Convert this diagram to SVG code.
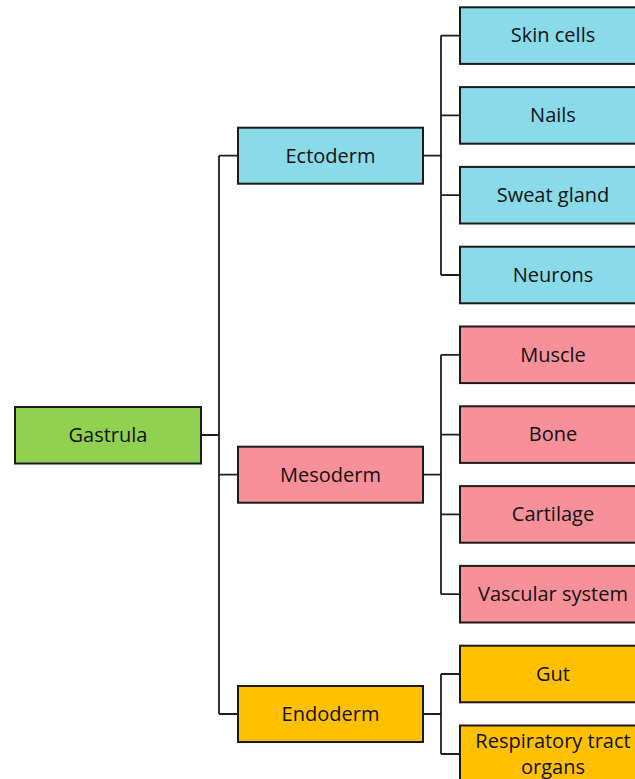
<svg xmlns="http://www.w3.org/2000/svg" width="635" height="779" viewBox="0 0 635 779">
<style>
.box{stroke:#1b1b1b;stroke-width:2}
.cyan{fill:#89DBEA}.pink{fill:#F8909A}.green{fill:#92D050}.orange{fill:#FFC000}
.lbl{font-family:"Open Sans","Liberation Sans",sans-serif;font-size:20px;fill:#111;text-anchor:middle}
.conn{fill:none;stroke:#1e1e1e;stroke-width:1.8}
</style>
<rect width="635" height="779" fill="#fff"/>
<g id="connectors">
<path class="conn" d="M201,435 H219 M219,155.7 V714 M219,155.7 H238 M219,474.7 H238 M219,714 H238"/>
<path class="conn" d="M423,155.7 H441 M441,35.6 V275 M441,35.6 H460 M441,115.4 H460 M441,195.2 H460 M441,275 H460"/>
<path class="conn" d="M423,474.7 H441 M441,354.8 V594.2 M441,354.8 H460 M441,434.6 H460 M441,514.4 H460 M441,594.2 H460"/>
<path class="conn" d="M423,714 H441 M441,674 V754 M441,674 H460 M441,754 H460"/>
</g>
<g id="gastrula"><rect class="box green" x="15" y="407" width="186" height="56.5"/><text class="lbl" x="108" y="441.5">Gastrula</text></g>
<g id="ectoderm"><rect class="box cyan" x="238" y="127.7" width="185" height="56"/><text class="lbl" x="330.5" y="162.5">Ectoderm</text></g>
<g id="mesoderm"><rect class="box pink" x="238" y="446.7" width="185" height="56"/><text class="lbl" x="330.5" y="481.5">Mesoderm</text></g>
<g id="endoderm"><rect class="box orange" x="238" y="686" width="185" height="56"/><text class="lbl" x="330.5" y="720.8">Endoderm</text></g>
<g id="skin-cells"><rect class="box cyan" x="460" y="7.3" width="186" height="56.6"/><text class="lbl" x="553" y="42.4">Skin cells</text></g>
<g id="nails"><rect class="box cyan" x="460" y="87.1" width="186" height="56.6"/><text class="lbl" x="553" y="122.2">Nails</text></g>
<g id="sweat-gland"><rect class="box cyan" x="460" y="166.9" width="186" height="56.6"/><text class="lbl" x="553" y="202">Sweat gland</text></g>
<g id="neurons"><rect class="box cyan" x="460" y="246.7" width="186" height="56.6"/><text class="lbl" x="553" y="281.8">Neurons</text></g>
<g id="muscle"><rect class="box pink" x="460" y="326.5" width="186" height="56.6"/><text class="lbl" x="553" y="361.6">Muscle</text></g>
<g id="bone"><rect class="box pink" x="460" y="406.3" width="186" height="56.6"/><text class="lbl" x="553" y="441.4">Bone</text></g>
<g id="cartilage"><rect class="box pink" x="460" y="486.1" width="186" height="56.6"/><text class="lbl" x="553" y="521.2">Cartilage</text></g>
<g id="vascular-system"><rect class="box pink" x="460" y="565.9" width="186" height="56.6"/><text class="lbl" x="553" y="601">Vascular system</text></g>
<g id="gut"><rect class="box orange" x="460" y="645.7" width="186" height="56.6"/><text class="lbl" x="553" y="680.8">Gut</text></g>
<g id="respiratory-tract-organs"><rect class="box orange" x="460" y="725.5" width="186" height="60"/><text class="lbl" x="553" y="747.5">Respiratory tract</text><text class="lbl" x="553" y="773.5">organs</text></g>
</svg>
